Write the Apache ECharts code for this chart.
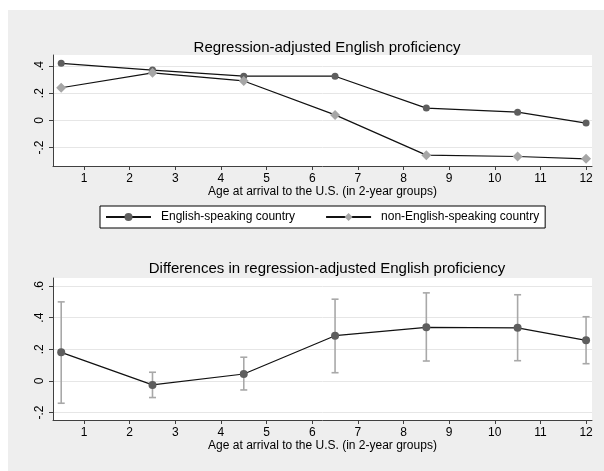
<!DOCTYPE html>
<html>
<head>
<meta charset="utf-8">
<script src="https://cdn.jsdelivr.net/npm/echarts@6/dist/echarts.min.js"></script>
<style>
html,body{margin:0;padding:0;background:#fff;}
#c{width:604px;height:471px;}
</style>
</head>
<body>
<div id="c"></div>
<script>
// ---- data ----
const ages = [0.5, 2.5, 4.5, 6.5, 8.5, 10.5, 12];
const english = [0.42, 0.37, 0.325, 0.325, 0.09, 0.06, -0.02];
const nonEnglish = [0.24, 0.35, 0.29, 0.04, -0.256, -0.266, -0.283];
const diff = [0.181, -0.025, 0.044, 0.286, 0.339, 0.336, 0.257];
const ciLow = [-0.141, -0.105, -0.057, 0.052, 0.126, 0.128, 0.109];
const ciHigh = [0.50, 0.055, 0.15, 0.517, 0.557, 0.545, 0.406];
const xTicks = [1, 2, 3, 4, 5, 6, 7, 8, 9, 10, 11, 12];
const yTicksTop = [-0.2, 0, 0.2, 0.4];
const yTicksBottom = [-0.2, 0, 0.2, 0.4, 0.6];
const topTitle = 'Regression-adjusted English proficiency';
const bottomTitle = 'Differences in regression-adjusted English proficiency';
const xTitle = 'Age at arrival to the U.S. (in 2-year groups)';
const seriesNames = ['English-speaking country', 'non-English-speaking country'];

const FONT = 'Liberation Sans, Arial, sans-serif';
const AXIS = '#404040';
const GRIDC = '#e6e6e6';

function fmt(v) {
  if (Math.abs(v) < 1e-9) return '0';
  const s = String(Math.round(Math.abs(v) * 10) / 10).replace(/^0/, '');
  return (v < 0 ? '-' : '') + s;
}

function xAxisCfg(gi) {
  return {
    type: 'value', gridIndex: gi, min: 0.32, max: 12.13,
    name: xTitle, nameLocation: 'middle', nameGap: 20,
    nameTextStyle: {fontFamily: FONT, fontSize: 12, color: '#000'},
    axisLine: {show: true, onZero: false, lineStyle: {color: AXIS, width: 1}},
    axisTick: {show: true, length: 4, customValues: xTicks, lineStyle: {color: AXIS}},
    axisLabel: {customValues: xTicks, margin: 7, fontFamily: FONT, fontSize: 12, color: '#000', formatter: v => String(v)},
    splitLine: {show: false}
  };
}
function yAxisCfg(gi, min, max, ticks) {
  return {
    type: 'value', gridIndex: gi, min: min, max: max,
    axisLine: {show: true, onZero: false, lineStyle: {color: AXIS, width: 1}},
    axisTick: {show: true, length: 4, customValues: ticks, lineStyle: {color: AXIS}},
    axisLabel: {customValues: ticks, rotate: 90, margin: 7, fontFamily: FONT, fontSize: 12, color: '#000', formatter: fmt},
    splitLine: {show: true, lineStyle: {color: GRIDC, width: 1}}
  };
}

const chart = echarts.init(document.getElementById('c'), null, {renderer: 'canvas'});
chart.setOption({
  backgroundColor: '#fff',
  animation: false,
  graphic: [{type: 'rect', z: -10, shape: {x: 8, y: 10, width: 596, height: 461}, style: {fill: '#eeeeee'}}],
  title: [
    {text: topTitle, left: 322, textAlign: 'center', top: 35, textStyle: {fontFamily: FONT, fontSize: 15, fontWeight: 'normal', color: '#000'}},
    {text: bottomTitle, left: 322, textAlign: 'center', top: 256, textStyle: {fontFamily: FONT, fontSize: 15, fontWeight: 'normal', color: '#000'}}
  ],
  legend: {
    data: seriesNames, left: 100, top: 206, orient: 'horizontal',
    backgroundColor: '#fff', borderColor: '#000', borderWidth: 1,
    padding: [5, 6, 5, 5], itemWidth: 45, itemHeight: 10, itemGap: 30,
    textStyle: {fontFamily: FONT, fontSize: 12, color: '#000', padding: [0, 0, 0, 5]}
  },
  grid: [
    {left: 53, right: 12, top: 55, height: 111, show: true, backgroundColor: '#fff', borderWidth: 0},
    {left: 53, right: 12, top: 278, height: 142, show: true, backgroundColor: '#fff', borderWidth: 0}
  ],
  xAxis: [xAxisCfg(0), xAxisCfg(1)],
  yAxis: [yAxisCfg(0, -0.336, 0.481, yTicksTop), yAxisCfg(1, -0.247, 0.651, yTicksBottom)],
  series: [
    {
      name: seriesNames[0], type: 'line', xAxisIndex: 0, yAxisIndex: 0,
      data: ages.map((a, i) => [a, english[i]]),
      symbol: 'circle', symbolSize: 7,
      itemStyle: {color: '#5e5e5e'},
      lineStyle: {color: '#111', width: 1.2}
    },
    {
      name: seriesNames[1], type: 'line', xAxisIndex: 0, yAxisIndex: 0,
      data: ages.map((a, i) => [a, nonEnglish[i]]),
      symbol: 'diamond', symbolSize: 10,
      itemStyle: {color: '#a6a6a6'},
      lineStyle: {color: '#111', width: 1.2}
    },
    {
      name: 'ci', type: 'custom', xAxisIndex: 1, yAxisIndex: 1,
      data: ages.map((a, i) => [a, ciLow[i], ciHigh[i]]),
      renderItem: function (params, api) {
        const lo = api.coord([api.value(0), api.value(1)]);
        const hi = api.coord([api.value(0), api.value(2)]);
        const w = 3.5;
        const st = {stroke: '#a8a8a8', lineWidth: 1.6, fill: null};
        return {type: 'group', children: [
          {type: 'line', shape: {x1: lo[0], y1: lo[1], x2: hi[0], y2: hi[1]}, style: st},
          {type: 'line', shape: {x1: lo[0] - w, y1: lo[1], x2: lo[0] + w, y2: lo[1]}, style: st},
          {type: 'line', shape: {x1: hi[0] - w, y1: hi[1], x2: hi[0] + w, y2: hi[1]}, style: st}
        ]};
      },
      z: 1
    },
    {
      name: 'diff', type: 'line', xAxisIndex: 1, yAxisIndex: 1,
      data: ages.map((a, i) => [a, diff[i]]),
      symbol: 'circle', symbolSize: 8,
      itemStyle: {color: '#5e5e5e'},
      lineStyle: {color: '#111', width: 1.2},
      z: 3
    }
  ]
});
</script>
</body>
</html>
